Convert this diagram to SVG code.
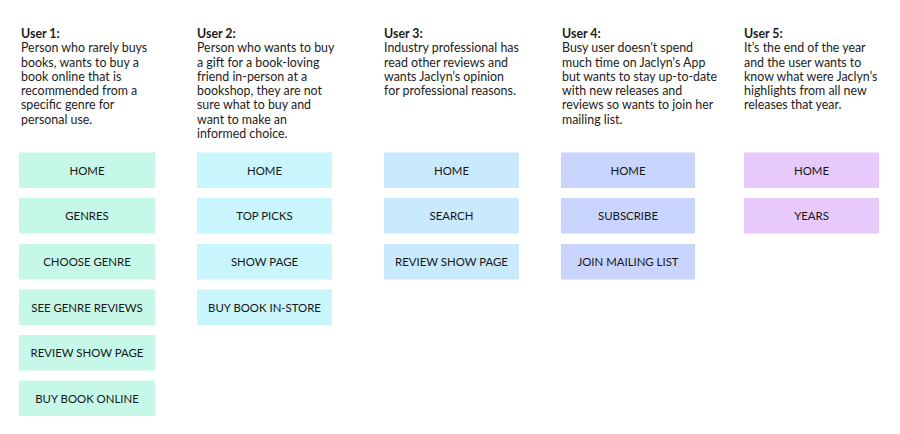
<svg xmlns="http://www.w3.org/2000/svg" width="900" height="434" viewBox="0 0 900 434">
<style>
.desc{font-family:Lato,"Noto Sans",sans-serif;font-size:12.4px;fill:#1c1c1c}
.hd{font-weight:bold}
.lbl{font-family:Lato,"Noto Sans",sans-serif;font-size:11.4px;fill:#161616;text-anchor:middle}
.c1{fill:#c6f8ea}.c2{fill:#c8f6fc}.c3{fill:#c9e9fd}.c4{fill:#cad5fe}.c5{fill:#e8c9fc}
</style>
<rect width="900" height="434" fill="#ffffff"/>
<g id="user1-desc" class="desc">
<text x="21" y="38" class="hd">User 1:</text>
<text x="21" y="52">Person who rarely buys</text>
<text x="21" y="66.5">books, wants to buy a</text>
<text x="21" y="80.8">book online that is</text>
<text x="21" y="95.1">recommended from a</text>
<text x="21" y="109.4">specific genre for</text>
<text x="21" y="123.7">personal use.</text>
</g>
<g id="user2-desc" class="desc">
<text x="197" y="38" class="hd">User 2:</text>
<text x="197" y="52">Person who wants to buy</text>
<text x="197" y="66.5">a gift for a book-loving</text>
<text x="197" y="80.8">friend in-person at a</text>
<text x="197" y="95.1">bookshop, they are not</text>
<text x="197" y="109.4">sure what to buy and</text>
<text x="197" y="123.7">want to make an</text>
<text x="197" y="138">informed choice.</text>
</g>
<g id="user3-desc" class="desc">
<text x="384" y="38" class="hd">User 3:</text>
<text x="384" y="52">Industry professional has</text>
<text x="384" y="66.5">read other reviews and</text>
<text x="384" y="80.8">wants Jaclyn’s opinion</text>
<text x="384" y="95.1">for professional reasons.</text>
</g>
<g id="user4-desc" class="desc">
<text x="562" y="38" class="hd">User 4:</text>
<text x="562" y="52">Busy user doesn't spend</text>
<text x="562" y="66.5">much time on Jaclyn's App</text>
<text x="562" y="80.8">but wants to stay up-to-date</text>
<text x="562" y="95.1">with new releases and</text>
<text x="562" y="109.4">reviews so wants to join her</text>
<text x="562" y="123.7">mailing list.</text>
</g>
<g id="user5-desc" class="desc">
<text x="744" y="38" class="hd">User 5:</text>
<text x="744" y="52">It’s the end of the year</text>
<text x="744" y="66.5">and the user wants to</text>
<text x="744" y="80.8">know what were Jaclyn’s</text>
<text x="744" y="95.1">highlights from all new</text>
<text x="744" y="109.4">releases that year.</text>
</g>
<g id="u1-home"><rect class="c1" x="19" y="152.5" width="136" height="35.5"/><text class="lbl" x="87" y="174.5">HOME</text></g>
<g id="u1-genres"><rect class="c1" x="19" y="198" width="136" height="35.5"/><text class="lbl" x="87" y="220">GENRES</text></g>
<g id="u1-choose"><rect class="c1" x="19" y="244" width="136" height="35.5"/><text class="lbl" x="87" y="266">CHOOSE GENRE</text></g>
<g id="u1-see"><rect class="c1" x="19" y="289.5" width="136" height="35.5"/><text class="lbl" x="87" y="311.5">SEE GENRE REVIEWS</text></g>
<g id="u1-review"><rect class="c1" x="19" y="335" width="136" height="35.5"/><text class="lbl" x="87" y="357">REVIEW SHOW PAGE</text></g>
<g id="u1-buy"><rect class="c1" x="19" y="380.5" width="136" height="35.5"/><text class="lbl" x="87" y="402.5">BUY BOOK ONLINE</text></g>
<g id="u2-home"><rect class="c2" x="197" y="152.5" width="135" height="35.5"/><text class="lbl" x="264.5" y="174.5">HOME</text></g>
<g id="u2-top"><rect class="c2" x="197" y="198" width="135" height="35.5"/><text class="lbl" x="264.5" y="220">TOP PICKS</text></g>
<g id="u2-show"><rect class="c2" x="197" y="244" width="135" height="35.5"/><text class="lbl" x="264.5" y="266">SHOW PAGE</text></g>
<g id="u2-buy"><rect class="c2" x="197" y="289.5" width="135" height="35.5"/><text class="lbl" x="264.5" y="311.5">BUY BOOK IN-STORE</text></g>
<g id="u3-home"><rect class="c3" x="384" y="152.5" width="135" height="35.5"/><text class="lbl" x="451.5" y="174.5">HOME</text></g>
<g id="u3-search"><rect class="c3" x="384" y="198" width="135" height="35.5"/><text class="lbl" x="451.5" y="220">SEARCH</text></g>
<g id="u3-review"><rect class="c3" x="384" y="244" width="135" height="35.5"/><text class="lbl" x="451.5" y="266">REVIEW SHOW PAGE</text></g>
<g id="u4-home"><rect class="c4" x="561" y="152.5" width="134" height="35.5"/><text class="lbl" x="628" y="174.5">HOME</text></g>
<g id="u4-sub"><rect class="c4" x="561" y="198" width="134" height="35.5"/><text class="lbl" x="628" y="220">SUBSCRIBE</text></g>
<g id="u4-join"><rect class="c4" x="561" y="244" width="134" height="35.5"/><text class="lbl" x="628" y="266">JOIN MAILING LIST</text></g>
<g id="u5-home"><rect class="c5" x="744" y="152.5" width="135" height="35.5"/><text class="lbl" x="811.5" y="174.5">HOME</text></g>
<g id="u5-years"><rect class="c5" x="744" y="198" width="135" height="35.5"/><text class="lbl" x="811.5" y="220">YEARS</text></g>
<g id="connectors"></g>
</svg>
